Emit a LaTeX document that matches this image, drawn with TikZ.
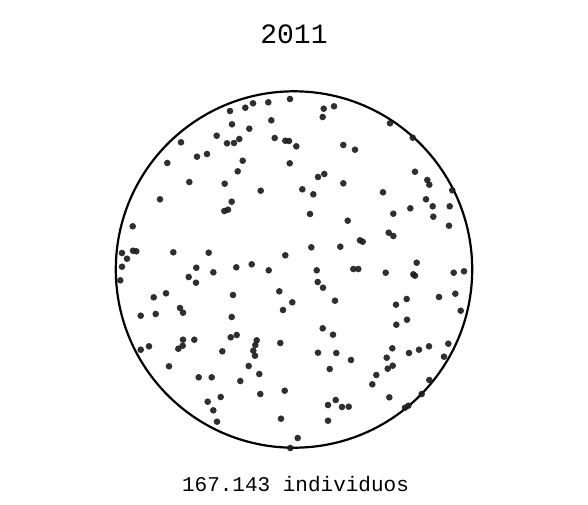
\documentclass[tikz,border=0pt]{standalone}
\usepackage{fontspec}
\setmonofont{Liberation Mono}
\definecolor{dotc}{RGB}{30,30,30}
\tikzset{
  dotmark/.style={fill=dotc, fill opacity=0.92},
  ringline/.style={draw=black, line width=2.2pt},
  titletext/.style={font=\ttfamily\fontsize{28}{32}\selectfont, anchor=base, inner sep=0pt},
  captext/.style={font=\ttfamily\fontsize{21}{25}\selectfont, anchor=base, inner sep=0pt}
}
\begin{document}
\begin{tikzpicture}[x=1pt,y=-1pt]
\useasboundingbox[fill=white] (0,0) rectangle (588,504);
\node[titletext] (title) at (294,43.3) {2011};
\node[captext] (caption) at (295.5,491.7) {167.143 individuos};
\draw[ringline] (294,269.5) circle[radius=178.2];
\foreach \px/\py in {
290/99,268.3/102.3,253/103.3,245.3/107.7,230/111,271.3/120.3,232/124.3,249.3/128.7,216.7/135.7,274.7/138,285.3/140.7,289/141,296.3/146.3,239.3/139,234/143,227/143.3,181/142.3,197/156.7,207/154,242.7/160.7,237.7/171.3,289.7/163.3,167.3/163,189.3/182,224.7/183.7,260.7/190.7,302.3/189.3,160/199.3,231.7/201.7,228/209.7,224.3/211,132.7/226.3,122/253,133/250.7,136.3/251.3,127/258.7,122/266.7,173.3/252.3,208.7/252.7,285.3/255.3,196.3/267.7,213.3/272.3,236.3/267.3,251.7/264.3,268.7/270.3,
323.7/108.7,334/106.3,322.7/117,390/123.3,412.7/137.7,343.3/145,355/149.7,318/177,324.3/174,343.3/183.3,415/171.7,427.3/180,429.3/184.7,452.3/190.3,313.3/194.3,383/192.3,426/199.3,432.7/206.3,449.7/206.3,410.3/208.3,310/214,393.3/213.7,433.3/216.7,347.7/220.7,449/225.7,388.7/232.7,393.3/236,360/240.3,362.7/241.7,311.3/247.3,340.3/246.7,416.7/262.7,316.7/270.3,353.3/269,358.3/269,385.7/272.7,413.3/274.3,415/275.7,453.7/272.7,464/271.3,
120.3/280.3,188.7/277,196/282.7,153.7/297.3,166/293.3,233/295,279.3/291.3,292.3/302.3,180/308,183/312.7,140.7/315.7,155.7/314,231.7/317,283/310,183/339.7,194.3/339.7,230.7/337.3,236.7/335,256.7/340.3,255.3/345,253.3/350.7,255/355.7,182.7/345.7,178.3/348.7,149/346.3,140.7/349.7,222.3/351.3,280.3/343,169/366.3,248.7/366,259.3/374,198.7/377.3,211.7/377.3,240.3/381,260.3/394,284.7/390.7,220.7/397,207.7/401.7,213.3/410.3,217/421.7,281/418.7,297.7/438,290.3/448,
317.7/282,323/287.7,335/300.7,396/304.7,406.7/299,439/297,455.3/293.7,460.7/310.7,322.7/328.3,333/334.7,396.3/324.7,407/319.7,318/352.7,336.3/353,351/360,329.7/369,392.3/348.3,386.7/357.7,387.7/368.7,392.7/365.7,409/353,419/349.7,429/346.3,448.3/343.7,444/356.7,376.3/375,372.3/384.3,429.3/380,421.7/394,389.3/397.3,335.7/400,328/405,342/407,348.7/406.7,405/407.7,408.3/405.7,328/420.7}
  {\fill[dotmark] (\px,\py) circle[radius=3.3pt];}
\end{tikzpicture}
\end{document}
